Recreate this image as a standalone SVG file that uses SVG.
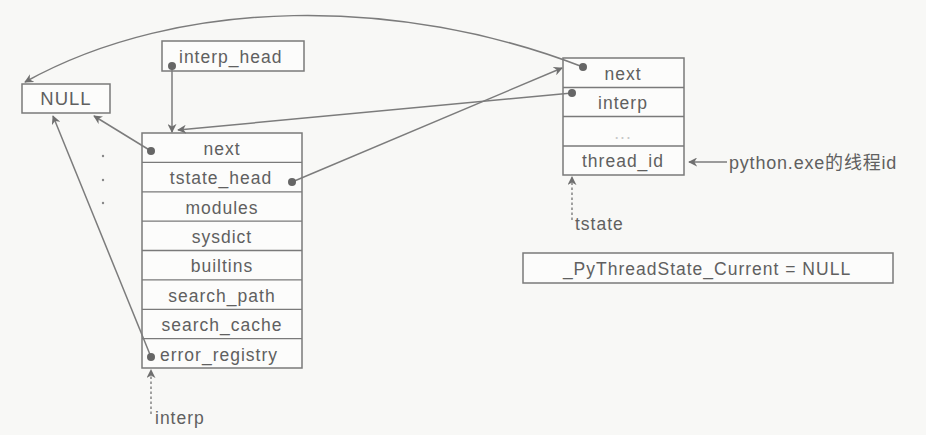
<svg xmlns="http://www.w3.org/2000/svg" width="926" height="435" viewBox="0 0 926 435">
<style>
.box{fill:#fcfcfb;stroke:#7a7a7a;stroke-width:1.5}
.row{stroke:#7a7a7a;stroke-width:1.3}
.t{font-family:"Liberation Sans",Arial,sans-serif;font-size:17.5px;fill:#606060;letter-spacing:1px}
.c{text-anchor:middle}
.ln{fill:none;stroke:#7c7c7c;stroke-width:1.5}
.dash{fill:none;stroke:#7c7c7c;stroke-width:1.4;stroke-dasharray:2.5 2.5}
.dot{fill:#666}
</style>
<defs>
<marker id="ah" viewBox="0 0 10 10" refX="9" refY="5" markerWidth="9" markerHeight="9" markerUnits="userSpaceOnUse" orient="auto">
<path d="M0,0 L10,5 L0,10 L3,5 z" fill="#6f6f6f"/>
</marker>
</defs>
<rect width="926" height="435" fill="#f8f8f6"/>

<g id="null">
<rect class="box" x="22" y="84" width="88" height="29"/>
<text class="t c" x="66" y="105" style="font-size:18.5px">NULL</text>
</g>

<g id="interp_head">
<rect class="box" x="162" y="41" width="142" height="30"/>
<text class="t" x="179" y="63">interp_head</text>
</g>

<g id="interp_state">
<rect class="box" x="142" y="133" width="160" height="235"/>
<line class="row" x1="142" y1="162.4" x2="302" y2="162.4"/>
<line class="row" x1="142" y1="191.8" x2="302" y2="191.8"/>
<line class="row" x1="142" y1="221.1" x2="302" y2="221.1"/>
<line class="row" x1="142" y1="250.5" x2="302" y2="250.5"/>
<line class="row" x1="142" y1="279.9" x2="302" y2="279.9"/>
<line class="row" x1="142" y1="309.3" x2="302" y2="309.3"/>
<line class="row" x1="142" y1="338.6" x2="302" y2="338.6"/>
<text class="t c" x="222" y="155">next</text>
<text class="t c" x="221" y="184">tstate_head</text>
<text class="t c" x="222" y="214">modules</text>
<text class="t c" x="222" y="243">sysdict</text>
<text class="t c" x="222" y="272">builtins</text>
<text class="t c" x="222" y="302">search_path</text>
<text class="t c" x="222" y="331">search_cache</text>
<text class="t c" x="219" y="361">error_registry</text>
</g>

<g id="thread_state">
<rect class="box" x="563" y="58" width="121" height="117"/>
<line class="row" x1="563" y1="87.5" x2="684" y2="87.5"/>
<line class="row" x1="563" y1="116.5" x2="684" y2="116.5"/>
<line class="row" x1="563" y1="146" x2="684" y2="146"/>
<text class="t c" x="623" y="80">next</text>
<text class="t c" x="623" y="109">interp</text>
<text class="t c" x="623" y="139" style="fill:#c8c8c8">...</text>
<text class="t c" x="623" y="167">thread_id</text>
</g>

<g id="current">
<rect class="box" x="523" y="253" width="370" height="30"/>
<text class="t c" x="707" y="275">_PyThreadState_Current = NULL</text>
</g>

<g id="labels">
<text class="t" x="729" y="169" style="font-size:18px;letter-spacing:0.8px">python.exe<tspan font-family="Noto Sans CJK SC,sans-serif">的线程</tspan>id</text>
<text class="t" x="575" y="230">tstate</text>
<text class="t" x="155" y="424">interp</text>
<circle cx="103" cy="156" r="1.2" fill="#888"/>
<circle cx="103" cy="180" r="1.2" fill="#888"/>
<circle cx="103" cy="203" r="1.2" fill="#888"/>
</g>

<g id="connectors">
<path class="ln" d="M583,67 C400,-4 180,-4 25,82" marker-end="url(#ah)"/>
<path class="ln" d="M172,66 L172,132" marker-end="url(#ah)"/>
<path class="ln" d="M572,93 L178,130" marker-end="url(#ah)"/>
<path class="ln" d="M292,182 L562,68" marker-end="url(#ah)"/>
<path class="ln" d="M151,151 L94,116" marker-end="url(#ah)"/>
<path class="ln" d="M151,357 L53,116" marker-end="url(#ah)"/>
<path class="ln" d="M727,162 L689,162" marker-end="url(#ah)"/>
<path class="dash" d="M572,220 L572,177" marker-end="url(#ah)"/>
<path class="dash" d="M151,414 L151,370" marker-end="url(#ah)"/>
<circle class="dot" cx="583" cy="67" r="4"/>
<circle class="dot" cx="572" cy="93" r="4"/>
<circle class="dot" cx="172" cy="66" r="4"/>
<circle class="dot" cx="151" cy="151" r="4"/>
<circle class="dot" cx="292" cy="182" r="4"/>
<circle class="dot" cx="151" cy="357" r="4"/>
</g>
</svg>
